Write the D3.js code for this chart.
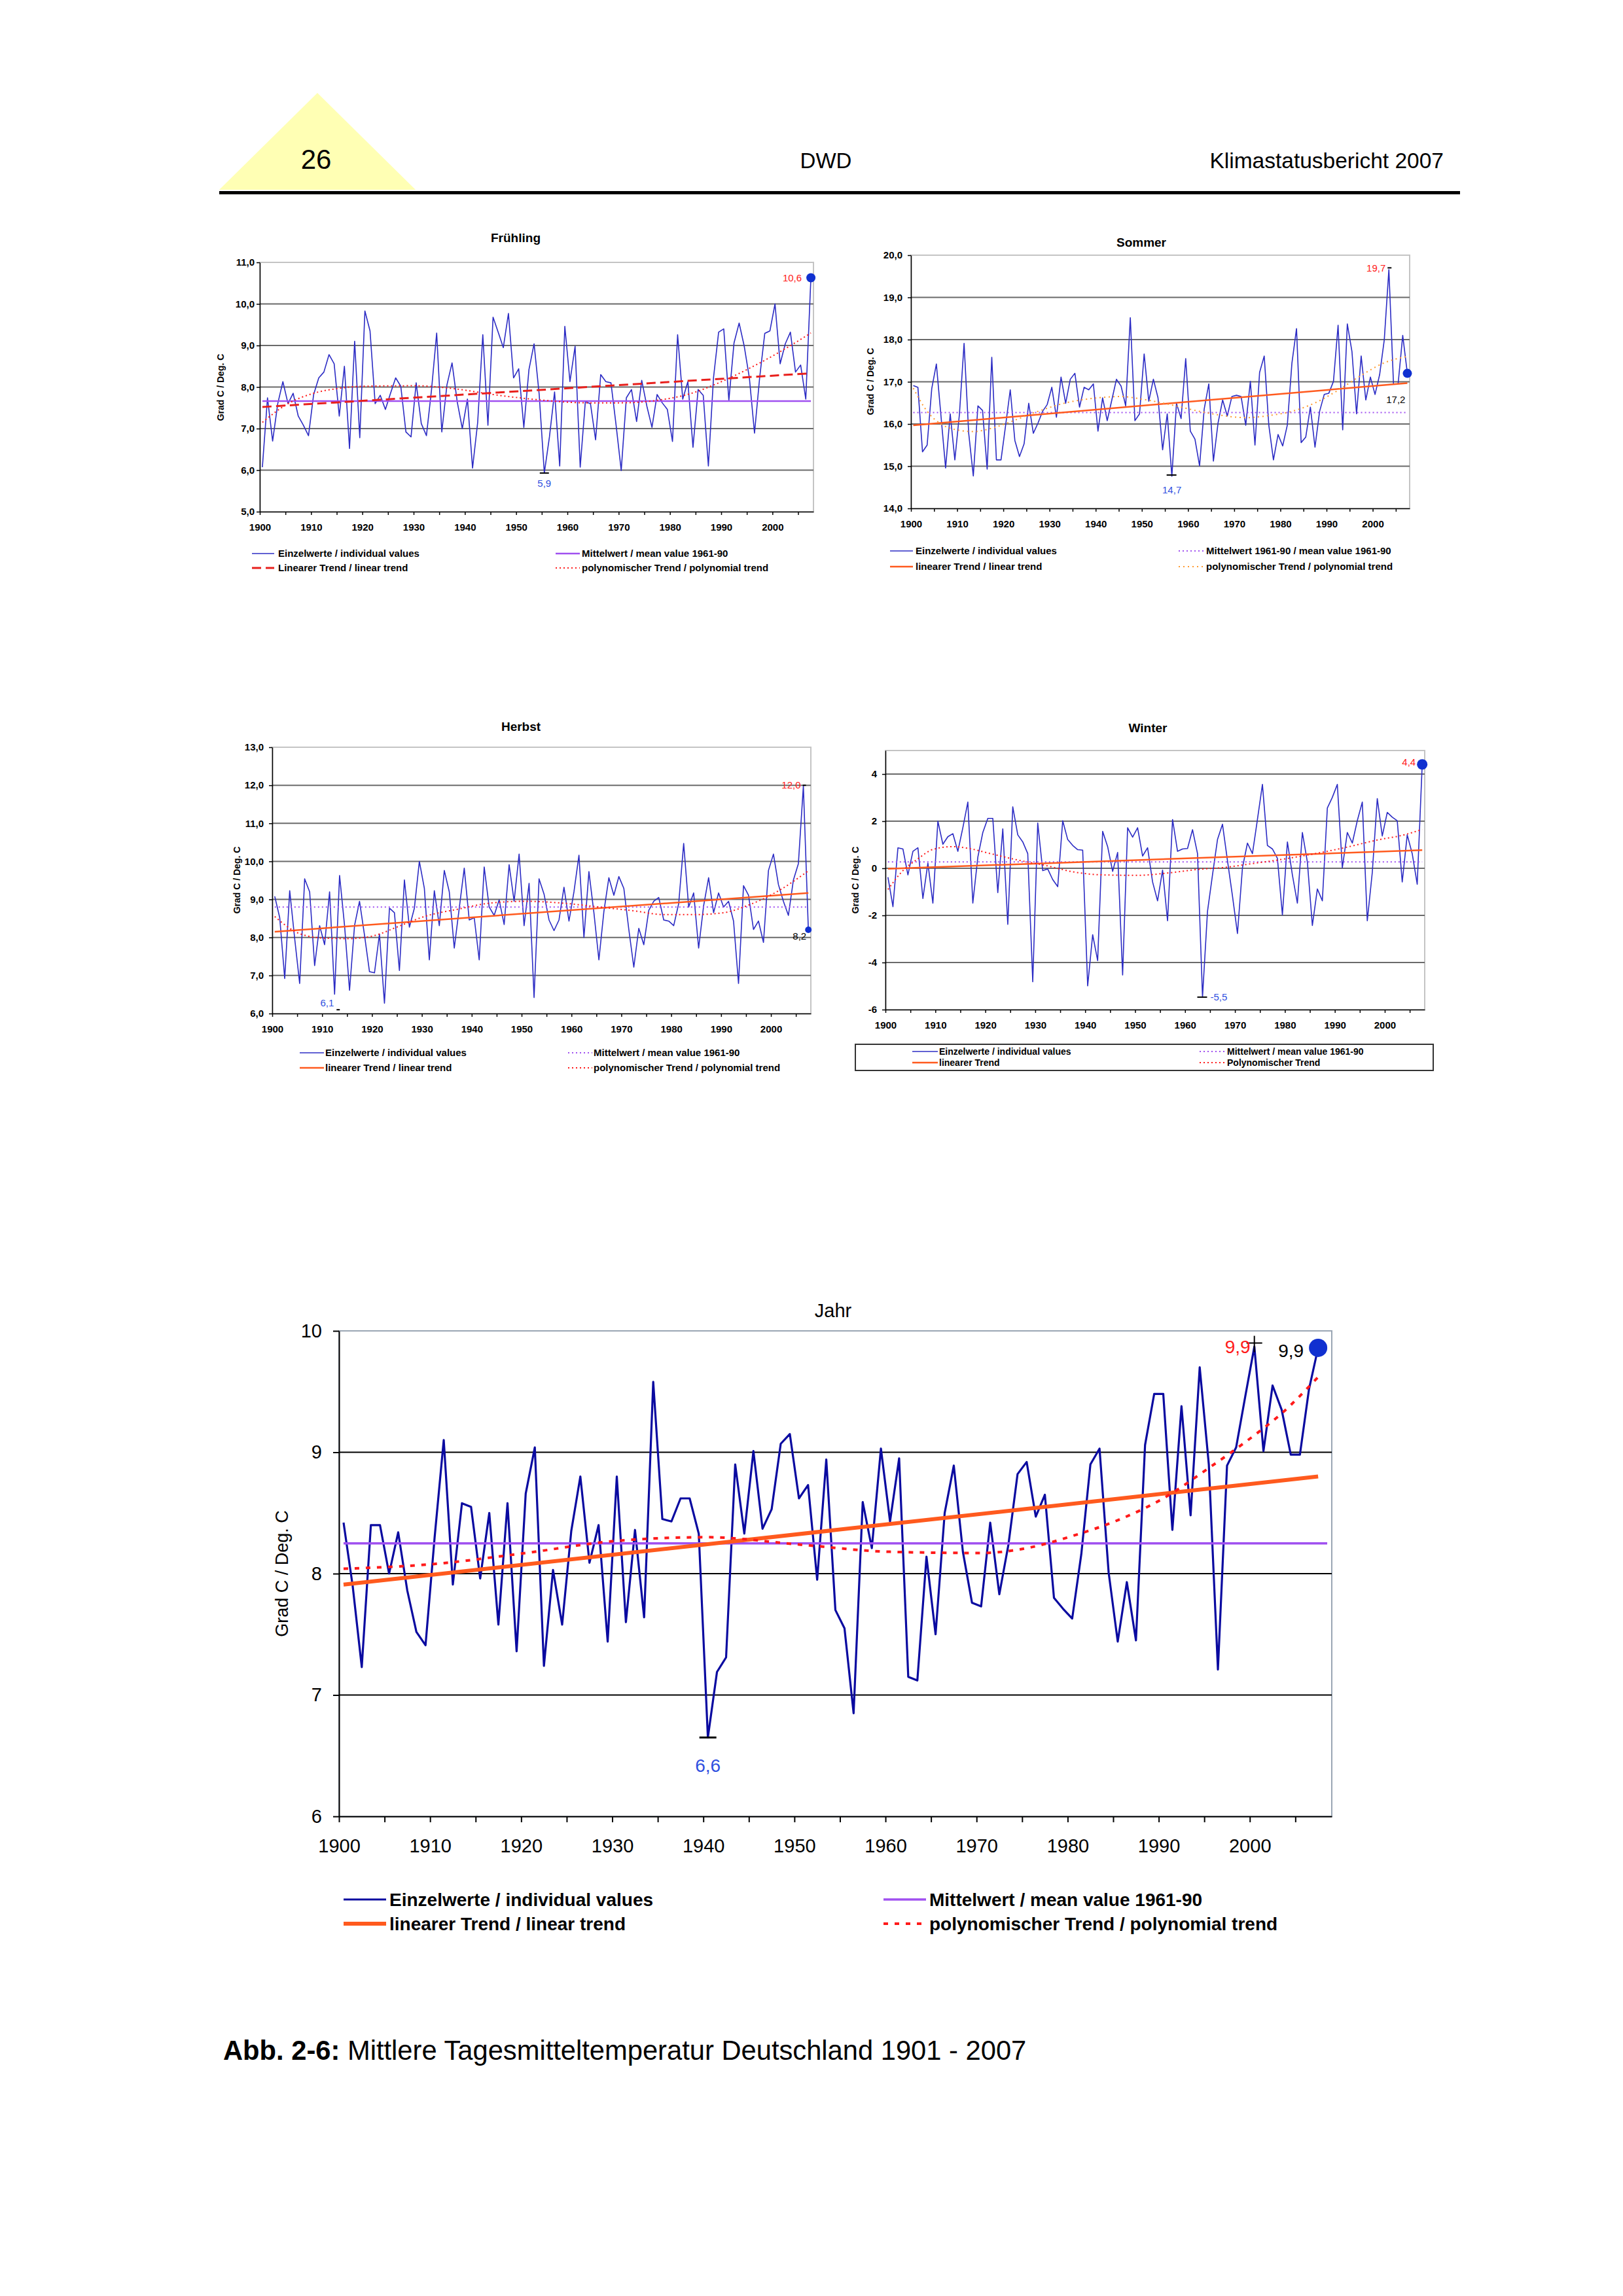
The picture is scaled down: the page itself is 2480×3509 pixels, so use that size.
<!DOCTYPE html>
<html>
<head>
<meta charset="utf-8">
<script src="https://cdn.jsdelivr.net/npm/d3@7"></script>
<style>
  body { margin: 0; background: #fff; }
  text { font-family: "Liberation Sans", Arial, Helvetica, sans-serif; }
</style>
</head>
<body>
<svg id="page" width="2480" height="3509"></svg>
<script>
// one value per year, 1900 - 2007 (category axis)
const years = d3.range(1900, 2008);

// Frühling (spring), Grad C
const springValues = [
  6.07, 7.74, 6.7, 7.6, 8.13, 7.6, 7.85, 7.3, 7.08, 6.83,
  7.82, 8.22, 8.36, 8.78, 8.56, 7.3, 8.5, 6.52, 9.1, 6.78,
  9.83, 9.35, 7.6, 7.8, 7.46, 7.85, 8.22, 8.02, 6.92, 6.8,
  8.1, 7.12, 6.83, 7.94, 9.3, 6.92, 8.05, 8.58, 7.65, 7.0,
  7.71, 6.05, 7.15, 9.26, 7.08, 9.68, 9.32, 8.95, 9.77, 8.22,
  8.44, 7.03, 8.42, 9.04, 7.82, 5.93, 6.8, 7.88, 6.1, 9.46,
  8.13, 8.98, 6.07, 7.65, 7.6, 6.73, 8.3, 8.13, 8.1, 7.08,
  5.99, 7.74, 7.94, 7.17, 8.16, 7.54, 7.03, 7.82, 7.62, 7.46,
  6.69, 9.26, 7.71, 8.13, 6.55, 7.94, 7.8, 6.1, 8.22, 9.32,
  9.4, 7.68, 9.06, 9.54, 8.98, 8.22, 6.89, 8.22, 9.29, 9.35,
  10.0, 8.56, 9.04, 9.32, 8.36, 8.53, 7.71, 10.63
];
// Sommer (summer)
const summerValues = [
  16.91, 16.87, 15.34, 15.5, 16.84, 17.42, 16.19, 14.96, 16.24, 15.15,
  16.24, 17.91, 15.78, 14.77, 16.43, 16.32, 14.93, 17.58, 15.15, 15.15,
  15.97, 16.81, 15.61, 15.23, 15.53, 16.49, 15.78, 16.02, 16.3, 16.46,
  16.87, 16.16, 17.11, 16.49, 17.06, 17.2, 16.4, 16.87, 16.81, 16.95,
  15.83, 16.62, 16.08, 16.57, 17.06, 16.9, 16.43, 18.52, 16.08, 16.24,
  17.66, 16.54, 17.06, 16.62, 15.39, 16.24, 14.76, 16.49, 16.13, 17.55,
  15.83, 15.64, 15.01, 16.35, 16.95, 15.12, 16.02, 16.57, 16.19, 16.65,
  16.68, 16.65, 15.97, 17.01, 15.5, 17.22, 17.61, 15.97, 15.15, 15.75,
  15.48, 15.97, 17.44, 18.26, 15.56, 15.69, 16.4, 15.45, 16.3, 16.7,
  16.73, 17.01, 18.34, 15.86, 18.37, 17.72, 16.24, 17.61, 16.57, 17.11,
  16.7, 17.17, 17.99, 19.66, 16.95, 16.95, 18.1, 17.2
];
// Herbst (autumn)
const autumnValues = [
  9.08, 8.52, 6.92, 9.23, 7.97, 6.79, 9.54, 9.2, 7.26, 8.31,
  7.81, 9.2, 6.51, 9.63, 8.31, 6.61, 8.31, 8.95, 8.06, 7.1,
  7.07, 8.09, 6.27, 8.77, 8.65, 7.13, 9.51, 8.27, 8.77, 10.0,
  9.29, 7.41, 9.23, 8.31, 9.76, 9.2, 7.72, 8.77, 9.82, 8.46,
  8.52, 7.41, 9.85, 8.8, 8.58, 8.99, 8.34, 9.91, 8.95, 10.19,
  8.31, 9.42, 6.42, 9.54, 9.14, 8.46, 8.18, 8.46, 9.32, 8.43,
  9.2, 10.16, 8.0, 9.73, 8.65, 7.41, 8.68, 9.57, 9.11, 9.6,
  9.29, 8.21, 7.22, 8.24, 7.81, 8.71, 8.95, 9.05, 8.46, 8.43,
  8.31, 8.89, 10.47, 8.8, 9.17, 7.72, 8.83, 9.57, 8.65, 9.17,
  8.8, 8.95, 8.43, 6.79, 9.36, 9.11, 8.21, 8.43, 7.87, 9.76,
  10.19, 9.39, 8.95, 8.58, 9.51, 9.94, 11.98, 8.2
];
// Winter
const winterValues = [
  -0.38, -1.63, 0.87, 0.82, -0.28, 0.72, 0.87, -1.28, 0.22, -1.48,
  2.0, 1.02, 1.34, 1.47, 0.72, 1.72, 2.81, -1.48, 0.47, 1.52,
  2.12, 2.12, -1.03, 1.67, -2.38, 2.61, 1.42, 1.12, 0.62, -4.82,
  1.92, -0.1, -0.03, -0.48, -0.78, 2.02, 1.22, 0.97, 0.79, 0.77,
  -4.99, -2.82, -3.92, 1.57, 0.92, -0.13, 0.67, -4.53, 1.72, 1.32,
  1.72, 0.52, 0.87, -0.58, -1.38, -0.08, -2.23, 2.07, 0.72, 0.82,
  0.84, 1.64, 0.62, -5.47, -1.83, -0.28, 1.22, 1.87, 0.32, -1.18,
  -2.77, 0.02, 1.07, 0.62, 2.07, 3.56, 0.97, 0.82, 0.42, -1.98,
  1.12, -0.28, -1.48, 1.52, 0.27, -2.43, -0.88, -1.38, 2.56, 3.01,
  3.56, 0.02, 1.52, 1.07, 2.02, 2.81, -2.23, -0.18, 2.96, 1.37,
  2.37, 2.17, 2.02, -0.58, 1.42, 0.62, -0.68, 4.41
];
// Jahr (year)
const yearValues = [
  8.42, 7.9, 7.23, 8.4, 8.4, 8.0, 8.34, 7.86, 7.52, 7.41,
  8.3, 9.1, 7.91, 8.58, 8.55, 7.96, 8.5, 7.58, 8.58, 7.36,
  8.66, 9.04, 7.24, 8.03, 7.58, 8.35, 8.8, 8.09, 8.4, 7.44,
  8.8, 7.6, 8.36, 7.64, 9.58, 8.45, 8.43, 8.62, 8.62, 8.33,
  6.65, 7.19, 7.31, 8.9, 8.33, 9.01, 8.37, 8.53, 9.07, 9.15,
  8.62, 8.73, 7.95, 8.94, 7.7, 7.55, 6.85, 8.59, 8.21, 9.03,
  8.43, 8.95, 7.15, 7.12, 8.14, 7.5, 8.5, 8.89, 8.18, 7.76,
  7.73, 8.42, 7.83, 8.24, 8.82, 8.92, 8.47, 8.65, 7.8, 7.71,
  7.63, 8.16, 8.9, 9.03, 8.01, 7.44, 7.93, 7.45, 9.06, 9.48,
  9.48, 8.36, 9.38, 8.48, 9.7, 8.9, 7.21, 8.89, 9.04, 9.46,
  9.87, 9.01, 9.55, 9.35, 8.98, 8.98, 9.52, 9.86
];

// Mittelwert 1961-90
const meanValues = { spring: 7.66, summer: 16.27, autumn: 8.8, winter: 0.27, year: 8.25 };

// linear trend, value at 1900 and at 2007
const trendYears = [1900, 2007];
const springTrend = [7.52, 8.33];
const summerTrend = [15.97, 16.97];
const autumnTrend = [8.15, 9.17];
const winterTrend = [-0.02, 0.77];
const yearTrend = [7.91, 8.80];

// polynomial trend
const springPolyYears = [1900, 1905, 1910, 1915, 1920, 1930, 1938, 1945, 1955, 1963, 1970, 1977, 1984, 1989, 1995, 2001, 2007];
const springPoly = [7.15, 7.6, 7.85, 7.97, 8.02, 8.03, 7.95, 7.82, 7.68, 7.62, 7.62, 7.68, 7.86, 8.1, 8.45, 8.85, 9.3];
const summerPolyYears = [1900, 1903, 1906, 1910, 1913, 1917, 1921, 1927, 1933, 1940, 1945, 1950, 1956, 1962, 1967, 1972, 1977, 1982, 1987, 1992, 1997, 2002, 2007];
const summerPoly = [16.85, 16.3, 16.0, 15.85, 15.82, 15.9, 16.05, 16.3, 16.5, 16.62, 16.65, 16.58, 16.45, 16.3, 16.2, 16.15, 16.2, 16.3, 16.5, 16.8, 17.15, 17.45, 17.6];
const autumnPolyYears = [1900, 1905, 1910, 1915, 1920, 1925, 1930, 1937, 1943, 1950, 1958, 1965, 1972, 1978, 1984, 1990, 1995, 2000, 2007];
const autumnPoly = [8.55, 8.1, 7.98, 7.97, 8.05, 8.3, 8.55, 8.75, 8.9, 8.95, 8.9, 8.8, 8.7, 8.6, 8.6, 8.65, 8.85, 9.15, 9.75];
const winterPolyYears = [1900, 1903, 1906, 1909, 1913, 1916, 1920, 1926, 1932, 1937, 1943, 1950, 1956, 1962, 1968, 1973, 1978, 1985, 1992, 1998, 2003, 2007];
const winterPoly = [-0.9, -0.1, 0.4, 0.8, 0.92, 0.85, 0.65, 0.35, 0.1, -0.15, -0.28, -0.3, -0.2, -0.05, 0.05, 0.2, 0.35, 0.6, 0.9, 1.2, 1.4, 1.65];
const yearPolyYears = [1900, 1910, 1920, 1930, 1940, 1950, 1960, 1970, 1975, 1980, 1985, 1990, 1995, 2000, 2003, 2007];
const yearPoly = [8.04, 8.08, 8.17, 8.27, 8.30, 8.24, 8.18, 8.17, 8.21, 8.31, 8.44, 8.62, 8.87, 9.14, 9.32, 9.62];

const legendSingle = "Einzelwerte / individual values";
const legendMean = "Mittelwert / mean value 1961-90";
const legendLinear = "linearer Trend / linear trend";
const legendPoly = "polynomischer Trend / polynomial trend";

// colours
const BLUE = "#2c2cc4", NAVY = "#0a0aa0", ORANGE = "#ff5a1e", PURPLE = "#a050f0", RED = "#ff1a1a";

const fmtComma = d => d3.format(".1f")(d).replace(".", ",");
const fmtInt = d => String(d);

const svg = d3.select("#page");
svg.append("rect").attr("width", 2480).attr("height", 3509).attr("fill", "#fff");

// page header
svg.append("polygon").attr("points", "335,290 485,142 635,290").attr("fill", "#ffffb4");
svg.append("rect").attr("x", 335).attr("y", 292).attr("width", 1896).attr("height", 5).attr("fill", "#000");
svg.append("text").attr("x", 483).attr("y", 258).attr("text-anchor", "middle").attr("font-size", 42).text("26");
svg.append("text").attr("x", 1262).attr("y", 257).attr("text-anchor", "middle").attr("font-size", 33).text("DWD");
svg.append("text").attr("x", 2206).attr("y", 257).attr("text-anchor", "end").attr("font-size", 33.5).text("Klimastatusbericht 2007");

// caption
const cap = svg.append("text").attr("x", 341).attr("y", 3148).attr("font-size", 41.7);
cap.append("tspan").attr("font-weight", "bold").text("Abb. 2-6: ");
cap.append("tspan").text("Mittlere Tagesmitteltemperatur Deutschland 1901 - 2007");

function styleLine(sel, s) {
  return sel.attr("fill", "none").attr("stroke", s.color).attr("stroke-width", s.width)
    .attr("stroke-dasharray", s.dash || null).attr("stroke-linecap", s.cap || "butt");
}

function drawPanel(p) {
  const g = svg.append("g");
  const x = d3.scaleLinear().domain([1900, p.xMax]).range([p.box.l, p.box.r]);
  const y = d3.scaleLinear().domain(p.yDomain).range([p.box.b, p.box.t]);
  const px = yr => x(yr + 0.5); // values sit in the middle of each year

  // plot frame
  g.append("rect").attr("x", p.box.l).attr("y", p.box.t)
    .attr("width", p.box.r - p.box.l).attr("height", p.box.b - p.box.t)
    .attr("fill", "none").attr("stroke", p.frameColor).attr("stroke-width", p.frameWidth);

  // grid
  g.selectAll(".grid").data(p.grid).join("line").attr("class", "grid")
    .attr("x1", p.box.l).attr("x2", p.box.r).attr("y1", d => y(d)).attr("y2", d => y(d))
    .attr("stroke", p.gridColor).attr("stroke-width", p.gridWidth);

  // axes
  const yAxis = d3.axisLeft(y).tickValues(p.yTicks).tickFormat(p.yFmt)
    .tickSize(p.tickLen).tickSizeOuter(0).tickPadding(p.yPad);
  const xAxis = d3.axisBottom(x).tickValues(d3.range(1900, 2006, 5))
    .tickFormat(d => d % 10 === 0 ? d : "").tickSize(p.tickLen).tickSizeOuter(0).tickPadding(p.xPad);
  const ya = g.append("g").attr("transform", `translate(${p.box.l},0)`).call(yAxis);
  const xa = g.append("g").attr("transform", `translate(0,${p.box.b})`).call(xAxis);
  [ya, xa].forEach(a => {
    a.select(".domain").attr("stroke", "#000").attr("stroke-width", p.axisWidth);
    a.selectAll(".tick line").attr("stroke", "#000").attr("stroke-width", p.axisWidth);
    a.selectAll("text").attr("font-size", p.tickFont).attr("font-weight", p.tickWeight).attr("fill", "#000");
  });

  // title and y label
  g.append("text").attr("x", p.title.x).attr("y", p.title.y).attr("dy", "0.35em")
    .attr("text-anchor", "middle").attr("font-size", p.title.size).attr("font-weight", p.title.weight)
    .text(p.title.text);
  g.append("text").attr("transform", `translate(${p.ylabel.x},${p.ylabel.y}) rotate(-90)`)
    .attr("dy", "0.35em").attr("text-anchor", "middle").attr("font-size", p.ylabel.size)
    .attr("font-weight", p.ylabel.weight).text("Grad C / Deg. C");

  const line = d3.line().x(d => px(d[0])).y(d => y(d[1]));

  // series
  styleLine(g.append("path").datum(d3.zip(years, p.values)).attr("d", line), p.styles.values)
    .attr("stroke-linejoin", "round");
  styleLine(g.append("path").datum([[p.meanSpan[0], p.mean], [p.meanSpan[1], p.mean]]).attr("d", line), p.styles.mean);
  styleLine(g.append("path").datum(d3.zip(trendYears, p.trend)).attr("d", line), p.styles.trend);
  styleLine(g.append("path").datum(d3.zip(p.polyYears, p.poly))
    .attr("d", line.curve(d3.curveMonotoneX)), p.styles.poly);

  // legend
  const lg = p.legend;
  if (lg.box) {
    g.append("rect").attr("x", lg.box[0]).attr("y", lg.box[1]).attr("width", lg.box[2]).attr("height", lg.box[3])
      .attr("fill", "none").attr("stroke", "#333").attr("stroke-width", 2);
  }
  lg.items.forEach(it => {
    const col = lg.cols[it.col], ry = lg.rows[it.row];
    styleLine(g.append("line").attr("x1", col[0]).attr("x2", col[1]).attr("y1", ry).attr("y2", ry), p.styles[it.key]);
    g.append("text").attr("x", col[2]).attr("y", ry).attr("dy", "0.35em")
      .attr("font-size", lg.size).attr("font-weight", "bold").text(it.label);
  });

  p.annotate(g, px, y);
}

const smallCommon = {
  xMax: 2008, frameColor: "#c4c4c4", frameWidth: 2, gridColor: "#6a6a6a", gridWidth: 2,
  tickLen: 5, xPad: 13, yPad: 8, axisWidth: 1.5, tickFont: 15, tickWeight: "bold"
};
const smallText = 15;

function dot(g, cx, cy, r) {
  g.append("circle").attr("cx", cx).attr("cy", cy).attr("r", r).attr("fill", "#1030d0");
}
function label(g, x, y, txt, color, size, anchor) {
  g.append("text").attr("x", x).attr("y", y).attr("dy", "0.35em").attr("fill", color)
    .attr("font-size", size).attr("text-anchor", anchor).text(txt);
}
function hbar(g, x1, x2, yy, w) {
  g.append("line").attr("x1", x1).attr("x2", x2).attr("y1", yy).attr("y2", yy)
    .attr("stroke", "#000").attr("stroke-width", w);
}

// Frühling
drawPanel(Object.assign({}, smallCommon, {
  box: { l: 397, r: 1243, t: 401, b: 782 }, yDomain: [5, 11], yTicks: d3.range(5, 11.5, 1),
  grid: [6, 7, 8, 9, 10], yFmt: fmtComma, yPad: 3,
  title: { x: 788, y: 363, text: "Frühling", size: 19, weight: "bold" },
  ylabel: { x: 337, y: 592, size: 14, weight: "bold" },
  values: springValues, mean: meanValues.spring, meanSpan: [1900, 2007], trend: springTrend,
  polyYears: springPolyYears, poly: springPoly,
  styles: {
    values: { color: BLUE, width: 1.6 }, mean: { color: PURPLE, width: 2.5 },
    trend: { color: "#e8201c", width: 3, dash: "14 7" }, poly: { color: RED, width: 2, dash: "2 4" }
  },
  legend: {
    rows: [846, 868], cols: [[385, 419, 425], [849, 886, 889]], size: 15,
    items: [
      { key: "values", col: 0, row: 0, label: legendSingle },
      { key: "trend", col: 0, row: 1, label: "Linearer Trend / linear trend" },
      { key: "mean", col: 1, row: 0, label: "Mittelwert / mean value 1961-90" },
      { key: "poly", col: 1, row: 1, label: legendPoly }
    ]
  },
  annotate: (g, px, y) => {
    dot(g, px(2007), y(springValues[107]), 7);
    label(g, px(2007) - 14, y(springValues[107]), "10,6", RED, smallText, "end");
    hbar(g, px(1955) - 7, px(1955) + 7, y(springValues[55]), 2);
    label(g, px(1955), y(springValues[55]) + 16, "5,9", "#3050e0", smallText, "middle");
  }
}));

// Sommer
drawPanel(Object.assign({}, smallCommon, {
  box: { l: 1392, r: 2154, t: 390, b: 777 }, yDomain: [14, 20], yTicks: d3.range(14, 20.5, 1),
  grid: [15, 16, 17, 18, 19], yFmt: fmtComma,
  title: { x: 1744, y: 370, text: "Sommer", size: 19, weight: "bold" },
  ylabel: { x: 1330, y: 583, size: 14, weight: "bold" },
  values: summerValues, mean: meanValues.summer, meanSpan: [1900, 2007], trend: summerTrend,
  polyYears: summerPolyYears, poly: summerPoly,
  styles: {
    values: { color: BLUE, width: 1.6 }, mean: { color: PURPLE, width: 2, dash: "2 4" },
    trend: { color: ORANGE, width: 2.5 }, poly: { color: "#ff9a30", width: 2, dash: "2 5" }
  },
  legend: {
    rows: [842, 866], cols: [[1360, 1395, 1399], [1801, 1840, 1843]], size: 15,
    items: [
      { key: "values", col: 0, row: 0, label: "Einzelwerte /  individual values" },
      { key: "trend", col: 0, row: 1, label: legendLinear },
      { key: "mean", col: 1, row: 0, label: "Mittelwert 1961-90 /  mean value 1961-90" },
      { key: "poly", col: 1, row: 1, label: legendPoly }
    ]
  },
  annotate: (g, px, y) => {
    hbar(g, px(2003) - 2, px(2003) + 4, y(19.7), 2);
    label(g, px(2003) - 5, y(19.7), "19,7", RED, smallText, "end");
    dot(g, px(2007), y(summerValues[107]), 7);
    label(g, px(2007) - 3, y(summerValues[107]) + 40, "17,2", "#000", smallText, "end");
    hbar(g, px(1956) - 8, px(1956) + 7, y(summerValues[56]) - 2, 2);
    label(g, px(1956), y(summerValues[56]) + 21, "14,7", "#3050e0", smallText, "middle");
  }
}));

// Herbst
drawPanel(Object.assign({}, smallCommon, {
  box: { l: 416, r: 1239, t: 1142, b: 1549 }, yDomain: [6, 13], yTicks: d3.range(6, 13.5, 1),
  grid: [7, 8, 9, 10, 11, 12], yFmt: fmtComma,
  title: { x: 796, y: 1110, text: "Herbst", size: 19, weight: "bold" },
  ylabel: { x: 362, y: 1345, size: 14, weight: "bold" },
  values: autumnValues, mean: meanValues.autumn, meanSpan: [1900, 2007], trend: autumnTrend,
  polyYears: autumnPolyYears, poly: autumnPoly,
  styles: {
    values: { color: BLUE, width: 1.6 }, mean: { color: PURPLE, width: 2, dash: "2 4" },
    trend: { color: ORANGE, width: 2.5 }, poly: { color: RED, width: 2, dash: "2 4" }
  },
  legend: {
    rows: [1609, 1632], cols: [[458, 495, 497], [868, 905, 907]], size: 15,
    items: [
      { key: "values", col: 0, row: 0, label: legendSingle },
      { key: "trend", col: 0, row: 1, label: legendLinear },
      { key: "mean", col: 1, row: 0, label: legendMean },
      { key: "poly", col: 1, row: 1, label: legendPoly }
    ]
  },
  annotate: (g, px, y) => {
    hbar(g, px(2006) - 1, px(2006) + 4, y(12.0), 2);
    label(g, px(2006) - 4, y(12.0), "12,0", RED, smallText, "end");
    dot(g, px(2007), y(autumnValues[107]), 5);
    label(g, px(2007) - 3, y(autumnValues[107]) + 10, "8,2", "#000", smallText, "end");
    hbar(g, px(1912) + 3, px(1912) + 8, y(6.1), 2);
    label(g, px(1912) - 1, y(6.1) - 10, "6,1", "#3050e0", smallText, "end");
  }
}));

// Winter
drawPanel(Object.assign({}, smallCommon, {
  box: { l: 1353, r: 2177, t: 1147, b: 1543 }, yDomain: [-6, 5], yTicks: [-6, -4, -2, 0, 2, 4],
  grid: [-4, -2, 0, 2, 4], yFmt: fmtInt,
  title: { x: 1754, y: 1112, text: "Winter", size: 19, weight: "bold" },
  ylabel: { x: 1307, y: 1345, size: 14, weight: "bold" },
  values: winterValues, mean: meanValues.winter, meanSpan: [1900, 2007], trend: winterTrend,
  polyYears: winterPolyYears, poly: winterPoly,
  styles: {
    values: { color: BLUE, width: 1.6 }, mean: { color: PURPLE, width: 2, dash: "2 4" },
    trend: { color: ORANGE, width: 2.5 }, poly: { color: RED, width: 2, dash: "2 4" }
  },
  legend: {
    box: [1307, 1596, 883, 40], rows: [1607, 1624], cols: [[1394, 1433, 1435], [1833, 1873, 1875]], size: 14,
    items: [
      { key: "values", col: 0, row: 0, label: legendSingle },
      { key: "trend", col: 0, row: 1, label: "linearer Trend" },
      { key: "mean", col: 1, row: 0, label: legendMean },
      { key: "poly", col: 1, row: 1, label: "Polynomischer Trend" }
    ]
  },
  annotate: (g, px, y) => {
    dot(g, px(2007), y(winterValues[107]), 8);
    label(g, px(2007) - 10, y(winterValues[107]) - 3, "4,4", RED, smallText, "end");
    hbar(g, px(1963) - 8, px(1963) + 7, y(winterValues[63]), 2);
    label(g, px(1963) + 12, y(winterValues[63]), "-5,5", "#3050e0", smallText, "start");
  }
}));

// Jahr
drawPanel({
  box: { l: 518, r: 2035, t: 2034, b: 2776 }, xMax: 2009, yDomain: [6, 10], yTicks: [6, 7, 8, 9, 10],
  grid: [7, 8, 9], yFmt: fmtInt,
  frameColor: "#9aa6b4", frameWidth: 2, gridColor: "#000", gridWidth: 2,
  tickLen: 9, xPad: 25, yPad: 17, axisWidth: 2, tickFont: 29, tickWeight: "normal",
  title: { x: 1273, y: 2003, text: "Jahr", size: 29, weight: "normal" },
  ylabel: { x: 431, y: 2405, size: 27, weight: "normal" },
  values: yearValues, mean: meanValues.year, meanSpan: [1900, 2008], trend: yearTrend,
  polyYears: yearPolyYears, poly: yearPoly,
  styles: {
    values: { color: NAVY, width: 3.2 }, mean: { color: PURPLE, width: 3.5 },
    trend: { color: ORANGE, width: 6 }, poly: { color: RED, width: 4, dash: "7 10" }
  },
  legend: {
    rows: [2903, 2940], cols: [[525, 590, 595], [1350, 1415, 1420]], size: 28,
    items: [
      { key: "values", col: 0, row: 0, label: legendSingle },
      { key: "trend", col: 0, row: 1, label: legendLinear },
      { key: "mean", col: 1, row: 0, label: legendMean },
      { key: "poly", col: 1, row: 1, label: legendPoly }
    ]
  },
  annotate: (g, px, y) => {
    const cx = px(2000), cy = y(9.9);
    g.append("line").attr("x1", cx - 12).attr("x2", cx + 12).attr("y1", cy).attr("y2", cy).attr("stroke", "#000").attr("stroke-width", 2);
    g.append("line").attr("x1", cx).attr("x2", cx).attr("y1", cy - 11).attr("y2", cy + 14).attr("stroke", "#000").attr("stroke-width", 2);
    label(g, cx - 6, cy + 6, "9,9", RED, 28, "end");
    dot(g, px(2007), y(yearValues[107]), 14);
    label(g, px(2007) - 22, y(yearValues[107]) + 4, "9,9", "#000", 28, "end");
    hbar(g, px(1940) - 13, px(1940) + 13, y(yearValues[40]), 3);
    label(g, px(1940), y(yearValues[40]) + 43, "6,6", "#3050e0", 28, "middle");
  }
});
</script>
</body>
</html>
